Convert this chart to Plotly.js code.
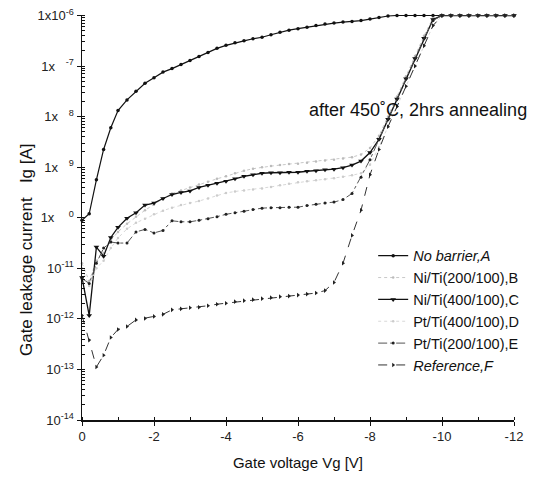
<!DOCTYPE html>
<html>
<head>
<meta charset="utf-8">
<script src="https://cdn.plot.ly/plotly-3.0.1.min.js"></script>
<style>html,body{margin:0;padding:0;background:#fff;}#chart{width:547px;height:487px;}</style>
</head>
<body>
<div id="chart"></div>
<script>
// Gate voltage (V)
const voltage = [0,-0.2,-0.4,-0.6,-0.8,-1,-1.25,-1.5,-1.75,-2,-2.25,-2.5,-2.75,-3,-3.25,-3.5,-3.75,-4,-4.25,-4.5,-4.75,-5,-5.25,-5.5,-5.75,-6,-6.25,-6.5,-6.75,-7,-7.25,-7.5,-7.75,-8,-8.25,-8.5,-8.75,-9,-9.25,-9.5,-9.75,-10,-10.25,-10.5,-10.75,-11,-11.25,-11.5,-11.75,-12];

// Gate leakage current (A)
const noBarrierA = [8.91e-11,1.20e-10,5.62e-10,2.24e-9,6.03e-9,1.32e-8,2.14e-8,3.16e-8,4.57e-8,5.89e-8,7.59e-8,8.91e-8,1.07e-7,1.29e-7,1.55e-7,1.86e-7,2.24e-7,2.57e-7,2.88e-7,3.16e-7,3.47e-7,3.72e-7,4.17e-7,4.68e-7,5.13e-7,5.50e-7,5.89e-7,6.31e-7,6.76e-7,7.08e-7,7.41e-7,7.59e-7,7.94e-7,8.51e-7,9.12e-7,9.77e-7,1e-6,1e-6,1e-6,1e-6,1e-6,1e-6,1e-6,1e-6,1e-6,1e-6,1e-6,1e-6,1e-6,1e-6];
const niTi200B = [1.26e-11,5.62e-12,1.41e-11,2.00e-11,3.55e-11,5.25e-11,7.59e-11,1.05e-10,1.41e-10,1.82e-10,2.40e-10,3.02e-10,3.47e-10,3.98e-10,4.57e-10,5.13e-10,5.89e-10,6.61e-10,7.59e-10,8.51e-10,9.33e-10,1.00e-9,1.05e-9,1.10e-9,1.15e-9,1.17e-9,1.23e-9,1.29e-9,1.35e-9,1.41e-9,1.48e-9,1.58e-9,1.78e-9,2.40e-9,4.17e-9,1.00e-8,2.51e-8,6.31e-8,1.58e-7,3.98e-7,8.91e-7,1e-6,1e-6,1e-6,1e-6,1e-6,1e-6,1e-6,1e-6,1e-6];
const niTi400C = [6.61e-12,1.17e-12,2.63e-11,1.74e-11,4.07e-11,6.46e-11,9.77e-11,1.26e-10,1.78e-10,1.95e-10,2.40e-10,2.88e-10,3.16e-10,3.39e-10,3.98e-10,4.37e-10,4.79e-10,5.25e-10,5.89e-10,6.61e-10,7.08e-10,7.59e-10,7.76e-10,7.76e-10,7.94e-10,7.94e-10,8.32e-10,8.51e-10,8.91e-10,9.12e-10,9.77e-10,1.10e-9,1.32e-9,1.95e-9,3.55e-9,8.91e-9,2.24e-8,5.62e-8,1.41e-7,3.55e-7,8.32e-7,1e-6,1e-6,1e-6,1e-6,1e-6,1e-6,1e-6,1e-6,1e-6];
const ptTi400D = [1.00e-11,4.47e-12,1.00e-11,1.41e-11,2.51e-11,3.98e-11,6.03e-11,7.94e-11,9.55e-11,1.17e-10,1.38e-10,1.58e-10,1.78e-10,1.95e-10,2.14e-10,2.40e-10,2.75e-10,3.09e-10,3.31e-10,3.47e-10,3.63e-10,3.80e-10,4.07e-10,4.37e-10,4.68e-10,5.01e-10,5.25e-10,5.50e-10,5.75e-10,6.03e-10,6.46e-10,6.92e-10,7.59e-10,1.12e-9,2.51e-9,6.31e-9,1.58e-8,3.98e-8,1.00e-7,2.51e-7,6.31e-7,1e-6,1e-6,1e-6,1e-6,1e-6,1e-6,1e-6,1e-6,1e-6];
const ptTi200E = [6.31e-12,5.01e-12,1.26e-11,2.51e-11,3.31e-11,3.16e-11,3.16e-11,5.25e-11,5.89e-11,5.01e-11,5.62e-11,8.71e-11,8.32e-11,8.32e-11,8.91e-11,9.55e-11,1.05e-10,1.17e-10,1.26e-10,1.35e-10,1.45e-10,1.55e-10,1.58e-10,1.58e-10,1.62e-10,1.62e-10,1.74e-10,1.86e-10,1.95e-10,2.04e-10,2.29e-10,3.02e-10,6.31e-10,1.41e-9,3.55e-9,8.91e-9,2.24e-8,5.62e-8,1.41e-7,3.55e-7,7.94e-7,1e-6,1e-6,1e-6,1e-6,1e-6,1e-6,1e-6,1e-6,1e-6];
const referenceF = [1.17e-12,3.80e-13,1.12e-13,1.91e-13,4.27e-13,6.17e-13,7.08e-13,9.55e-13,1.02e-12,1.12e-12,1.23e-12,1.51e-12,1.58e-12,1.66e-12,1.70e-12,1.82e-12,1.95e-12,2.04e-12,2.19e-12,2.29e-12,2.40e-12,2.51e-12,2.63e-12,2.75e-12,2.82e-12,2.95e-12,3.09e-12,3.24e-12,3.63e-12,5.25e-12,1.26e-11,4.47e-11,1.41e-10,7.08e-10,2.24e-9,6.31e-9,1.58e-8,3.98e-8,1.00e-7,2.51e-7,6.31e-7,1e-6,1e-6,1e-6,1e-6,1e-6,1e-6,1e-6,1e-6,1e-6];

const seriesNames = ['<i>No barrier,A</i>','Ni/Ti(200/100),B','Ni/Ti(400/100),C','Pt/Ti(400/100),D','Pt/Ti(200/100),E','<i>Reference,F</i>'];

const xTickVals = [0,-2,-4,-6,-8,-10,-12];
const xTickText = ['0','-2','-4','-6','-8','-10','-12'];
const yTickVals = [1e-14,1e-13,1e-12,1e-11,1e-10,1e-9,1e-8,1e-7,1e-6];
const yTickText = ['10<sup>-14</sup>','10<sup>-13</sup>','10<sup>-12</sup>','10<sup>-11</sup>','1x\u00a0\u00a0\u00a0\u00a0<sup>0</sup>','1x\u00a0\u00a0\u00a0<sup>9</sup>','1x\u00a0\u00a0\u00a0<sup>8</sup>','1x\u00a0\u00a0\u00a0<sup>-7</sup>','1x10<sup>-6</sup>'];

const ys = [noBarrierA, niTi200B, niTi400C, ptTi400D, ptTi200E, referenceF];
const styles = [
  {line:{color:'#111',width:1.2,dash:'solid'}, marker:{symbol:'circle',size:3.5,color:'#111'}},
  {line:{color:'#c8c8c8',width:1,dash:'dot'}, marker:{symbol:'circle',size:2.5,color:'#bbb'}},
  {line:{color:'#111',width:1.3,dash:'solid'}, marker:{symbol:'triangle-down',size:5,color:'#111'}},
  {line:{color:'#d8d8d8',width:1,dash:'dot'}, marker:{symbol:'circle',size:2.5,color:'#ccc'}},
  {line:{color:'#555',width:1,dash:'dashdot'}, marker:{symbol:'circle',size:3,color:'#222'}},
  {line:{color:'#333',width:1,dash:'dash'}, marker:{symbol:'triangle-right',size:4,color:'#222'}}
];

const traces = ys.map((y,i)=>({
  x: voltage, y: y, name: seriesNames[i], type:'scatter', mode:'lines+markers',
  line: styles[i].line, marker: styles[i].marker, cliponaxis:false
}));

const layout = {
  width:547, height:487,
  margin:{l:82, r:33, t:15, b:67},
  paper_bgcolor:'#fff', plot_bgcolor:'#fff',
  font:{family:'Liberation Sans, Arial, sans-serif', color:'#111', size:13},
  showlegend:true,
  legend:{x:0.674, y:0.445, xanchor:'left', yanchor:'top', bgcolor:'rgba(0,0,0,0)', font:{size:14.5}, tracegroupgap:0, itemwidth:30},
  xaxis:{
    range:[0,-12], tickmode:'array', tickvals:xTickVals, ticktext:xTickText,
    showline:true, linecolor:'#111', linewidth:1.5, ticks:'outside', ticklen:4, tickcolor:'#111',
    minor:{tickmode:'linear', tick0:0, dtick:1, ticks:'inside', ticklen:3, tickcolor:'#111'},
    showgrid:false, zeroline:false, mirror:false,
    tickfont:{size:13, color:'#222'},
    title:{text:'Gate voltage Vg [V]', font:{size:15, color:'#111'}, standoff:14}
  },
  yaxis:{
    type:'log', range:[-14,-5.99], tickmode:'array', tickvals:yTickVals, ticktext:yTickText,
    showline:true, linecolor:'#111', linewidth:1.5, ticks:'outside', ticklen:4, tickcolor:'#111',
    minor:{tickmode:'linear', dtick:'D1', ticks:'inside', ticklen:3, tickcolor:'#111'},
    showgrid:false, zeroline:false,
    tickfont:{size:13, color:'#222'}
  },
  annotations:[{
    xref:'paper', yref:'paper', x:0.52, y:0.765, xanchor:'left', yanchor:'middle',
    text:'after 450˚C, 2hrs annealing', showarrow:false, font:{size:18, color:'#111'}
  },{
    xref:'paper', yref:'paper', x:-0.127, y:0.42, xanchor:'center', yanchor:'middle', textangle:-90,
    text:'Gate leakage current\u00a0\u00a0\u00a0Ig [A]', showarrow:false, font:{size:17, color:'#111'}
  }]
};

Plotly.newPlot('chart', traces, layout, {displayModeBar:false, staticPlot:true});
</script>
</body>
</html>
